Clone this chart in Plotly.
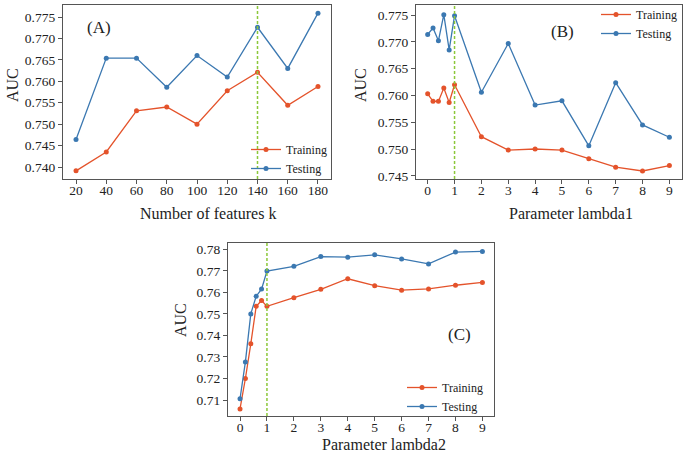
import plotly.graph_objects as go

# ---------------- data ----------------
k_vals = [20, 40, 60, 80, 100, 120, 140, 160, 180]
a_train = [0.7391, 0.7435, 0.7531, 0.7540, 0.7500, 0.7578, 0.7621, 0.7544, 0.7588]
a_test = [0.7464, 0.7654, 0.7654, 0.7586, 0.7660, 0.7610, 0.7726, 0.7630, 0.7759]

lam1 = [0, 0.2, 0.4, 0.6, 0.8, 1, 2, 3, 4, 5, 6, 7, 8, 9]
b_train = [0.7603, 0.7589, 0.7589, 0.7614, 0.7587, 0.7620, 0.7523, 0.7498, 0.7500, 0.7498, 0.7482, 0.7466, 0.7459, 0.7469]
b_test = [0.7714, 0.7726, 0.7702, 0.7751, 0.7685, 0.7749, 0.7606, 0.7697, 0.7582, 0.7590, 0.7506, 0.7624, 0.7545, 0.7522]

lam2 = [0, 0.2, 0.4, 0.6, 0.8, 1, 2, 3, 4, 5, 6, 7, 8, 9]
c_train = [0.7059, 0.7200, 0.7361, 0.7535, 0.7562, 0.7535, 0.7575, 0.7614, 0.7663, 0.7631, 0.7610, 0.7616, 0.7633, 0.7646]
c_test = [0.7106, 0.7277, 0.7500, 0.7582, 0.7615, 0.7699, 0.7721, 0.7766, 0.7763, 0.7774, 0.7755, 0.7732, 0.7787, 0.7790]

best = {"A": 140, "B": 1, "C": 1}

# ---------------- style ----------------
W, H = 685, 454
FONT = "Liberation Serif, Times New Roman, serif"
C_TRAIN = "#e4532b"
C_TEST = "#3b78b1"
C_VLINE = "#8cc83a"
FRAME = "#555555"

def px(x):
    return x / W

def py(y):
    return 1 - y / H

fig = go.Figure()

panels = [
    ("A", "x", "y", "legend", k_vals, a_train, a_test, (63, 331), (5, 179), (11.4, 188.6), (0.7372, 0.7778),
     k_vals, [0.740, 0.745, 0.750, 0.755, 0.760, 0.765, 0.770, 0.775], ".3f"),
    ("B", "x2", "y2", "legend2", lam1, b_train, b_test, (416, 682), (5, 179), (-0.435, 9.47), (0.7444, 0.7769),
     list(range(10)), [0.745, 0.750, 0.755, 0.760, 0.765, 0.770, 0.775], ".3f"),
    ("C", "x3", "y3", "legend3", lam2, c_train, c_test, (228, 494), (243, 416), (-0.446, 9.43), (0.7026, 0.7829),
     list(range(10)), [0.71, 0.72, 0.73, 0.74, 0.75, 0.76, 0.77, 0.78], ".2f"),
]

layout_axes = {}
for i, (name, xa, ya, lg, xs, tr, te, xd, yd, xr, yr, xt, yt, fmt) in enumerate(panels):
    fig.add_trace(go.Scatter(x=xs, y=tr, mode="lines+markers", name="Training",
                             line=dict(color=C_TRAIN, width=1.3), marker=dict(size=5, color=C_TRAIN),
                             xaxis=xa, yaxis=ya, legend=lg))
    fig.add_trace(go.Scatter(x=xs, y=te, mode="lines+markers", name="Testing",
                             line=dict(color=C_TEST, width=1.3), marker=dict(size=5, color=C_TEST),
                             xaxis=xa, yaxis=ya, legend=lg))
    suffix = "" if i == 0 else str(i + 1)
    layout_axes["xaxis" + suffix] = dict(
        domain=[px(xd[0]), px(xd[1])], range=list(xr), tickvals=xt,
        anchor=ya, showgrid=False, zeroline=False, showline=True, mirror=True,
        linecolor=FRAME, linewidth=1.2, ticks="outside", ticklen=4, tickcolor=FRAME,
        ticklabelstandoff=-5,
        tickfont=dict(family=FONT, size=13.5, color="#222"), automargin=False)
    layout_axes["yaxis" + suffix] = dict(
        domain=[py(yd[1]), py(yd[0])], range=list(yr), tickvals=yt, tickformat=fmt,
        anchor=xa, showgrid=False, zeroline=False, showline=True, mirror=True,
        linecolor=FRAME, linewidth=1.2, ticks="outside", ticklen=4, tickcolor=FRAME,
        tickfont=dict(family=FONT, size=13.5, color="#222"), automargin=False)
    fig.add_shape(type="line", xref=xa, yref=ya + " domain", x0=best[name], x1=best[name], y0=0, y1=1,
                  line=dict(color=C_VLINE, width=1.5, dash="3px,2px"))

fig.update_layout(**layout_axes)

leg_common = dict(font=dict(family=FONT, size=12, color="#222"), bgcolor="rgba(0,0,0,0)",
                  tracegroupgap=0, itemwidth=30, xanchor="left", yanchor="top")
fig.update_layout(
    legend=dict(x=px(246), y=py(135), **leg_common),
    legend2=dict(x=px(596), y=py(0), **leg_common),
    legend3=dict(x=px(402), y=py(373), **leg_common),
)

annots = [
    dict(text="AUC", x=px(12), y=py(85), textangle=-90, size=16),
    dict(text="AUC", x=px(360), y=py(85), textangle=-90, size=16),
    dict(text="AUC", x=px(180), y=py(320), textangle=-90, size=16),
    dict(text="Number of features k", x=px(208), y=py(213), textangle=0, size=16),
    dict(text="Parameter lambda1", x=px(571), y=py(213), textangle=0, size=16),
    dict(text="Parameter lambda2", x=px(384), y=py(444), textangle=0, size=16),
    dict(text="(A)", x=px(99), y=py(27), textangle=0, size=17),
    dict(text="(B)", x=px(562), y=py(32), textangle=0, size=17),
    dict(text="(C)", x=px(460), y=py(334), textangle=0, size=17),
]
for a in annots:
    fig.add_annotation(text=a["text"], x=a["x"], y=a["y"], xref="paper", yref="paper",
                       showarrow=False, textangle=a["textangle"], xanchor="center", yanchor="middle",
                       font=dict(family=FONT, size=a["size"], color="#222"))

fig.update_layout(width=W, height=H, margin=dict(l=0, r=0, t=0, b=0, autoexpand=False),
                  paper_bgcolor="white", plot_bgcolor="white", showlegend=True)

fig.write_html("out.html", config={"displayModeBar": False},
               post_script="document.body.style.margin='0px';document.body.style.overflow='hidden';")
